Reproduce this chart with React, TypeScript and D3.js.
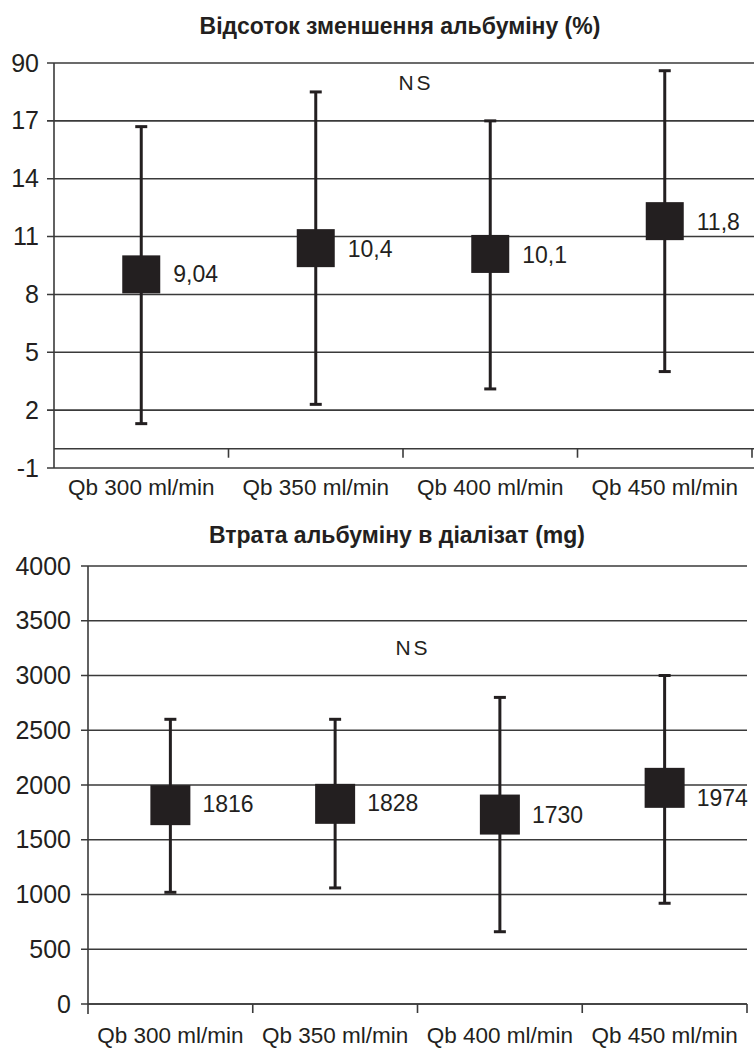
import React from 'react';
import * as d3 from 'd3';

const categories = ['Qb 300 ml/min', 'Qb 350 ml/min', 'Qb 400 ml/min', 'Qb 450 ml/min'];

// Відсоток зменшення альбуміну (%)
const reductionMean = [9.04, 10.4, 10.1, 11.8];
const reductionHigh = [16.7, 18.5, 17.0, 19.6];
const reductionLow = [1.3, 2.3, 3.1, 4.0];
const reductionTicks = [-1, 2, 5, 8, 11, 14, 17, 20];
const reductionTickLabels = ['-1', '2', '5', '8', '11', '14', '17', '90'];

// Втрата альбуміну в діалізат (mg)
const lossMean = [1816, 1828, 1730, 1974];
const lossHigh = [2600, 2600, 2800, 3000];
const lossLow = [1020, 1060, 660, 920];
const lossTicks = [0, 500, 1000, 1500, 2000, 2500, 3000, 3500, 4000];
const lossTickLabels = lossTicks.map(String);

const ink = '#231f20';
const gridColor = '#3a3a3a';
const font = '"Liberation Sans", Arial, sans-serif';

const commaFmt = (v: number) => String(v).replace('.', ',');

interface PanelProps {
  title: string;
  titleX: number;
  titleY: number;
  titleSize: number;
  means: number[];
  highs: number[];
  lows: number[];
  ticks: number[];
  tickLabels: string[];
  yDomain: [number, number];
  top: number;
  bottom: number;
  left: number;
  right: number;
  gridRight: number;
  baseValue: number;
  axisBottom: number;
  tickLabelX: number;
  tickFont: number;
  catLabelY: number;
  markSize: number;
  labelDy: number[];
  nsX: number;
  nsY: number;
  fmt: (v: number) => string;
}

const Panel: React.FC<PanelProps> = (p) => {
  const y = d3.scaleLinear().domain(p.yDomain).range([p.bottom, p.top]);
  const x = d3.scaleBand().domain(categories).range([p.left, p.right]);
  const bw = x.bandwidth();
  const baseY = y(p.baseValue);
  const boundaries = categories.map((c) => (x(c) as number) + bw);

  return (
    <g fontFamily={font} fill={ink}>
      <text x={p.titleX} y={p.titleY} textAnchor="middle" fontWeight="bold" fontSize={p.titleSize}>
        {p.title}
      </text>

      {/* gridlines + y ticks */}
      {p.ticks.map((t, i) => (
        <g key={t}>
          <line x1={p.left - 7} x2={p.gridRight} y1={y(t)} y2={y(t)} stroke={gridColor} strokeWidth={1.6} />
          <text x={p.tickLabelX} y={y(t) + 8.5} textAnchor="end" fontSize={p.tickFont}>
            {p.tickLabels[i]}
          </text>
        </g>
      ))}

      {/* value axis */}
      <line x1={p.left} x2={p.left} y1={y(p.yDomain[1])} y2={p.axisBottom} stroke={gridColor} strokeWidth={1.6} />

      {/* category axis */}
      <line x1={p.left} x2={p.gridRight} y1={baseY} y2={baseY} stroke={gridColor} strokeWidth={1.6} />
      {boundaries.map((b) => (
        <line key={b} x1={b} x2={b} y1={baseY} y2={baseY + 9} stroke={gridColor} strokeWidth={1.6} />
      ))}
      {categories.map((c) => (
        <text key={c} x={(x(c) as number) + bw / 2} y={p.catLabelY} textAnchor="middle" fontSize={22.5}>
          {c}
        </text>
      ))}

      <text x={p.nsX} y={p.nsY} textAnchor="middle" fontSize={21} letterSpacing={3}>
        NS
      </text>

      {/* error bars + means */}
      {categories.map((c, i) => {
        const cx = (x(c) as number) + bw / 2;
        const cy = y(p.means[i]);
        const hi = y(p.highs[i]);
        const lo = y(p.lows[i]);
        const s = p.markSize;
        return (
          <g key={c}>
            <line x1={cx} x2={cx} y1={hi} y2={lo} stroke={ink} strokeWidth={3} />
            <line x1={cx - 6} x2={cx + 6} y1={hi} y2={hi} stroke={ink} strokeWidth={3} />
            <line x1={cx - 6} x2={cx + 6} y1={lo} y2={lo} stroke={ink} strokeWidth={3} />
            <rect x={cx - s / 2} y={cy - s / 2} width={s} height={s} fill={ink} />
            <text x={cx + 32} y={cy + p.labelDy[i]} fontSize={23}>
              {p.fmt(p.means[i])}
            </text>
          </g>
        );
      })}
    </g>
  );
};

const App: React.FC = () => {
  return (
    <div style={{ position: 'absolute', left: 0, top: 0, background: '#fff' }}>
      <svg width={754} height={1048} viewBox="0 0 754 1048">
        <rect width={754} height={1048} fill="#fff" />
        <Panel
          title="Відсоток зменшення альбуміну (%)"
          titleX={400}
          titleY={34}
          titleSize={23}
          means={reductionMean}
          highs={reductionHigh}
          lows={reductionLow}
          ticks={reductionTicks}
          tickLabels={reductionTickLabels}
          yDomain={[-1, 20]}
          top={63}
          bottom={468}
          left={54}
          right={752}
          gridRight={754}
          baseValue={0}
          axisBottom={468}
          tickLabelX={39}
          tickFont={25}
          catLabelY={495}
          markSize={38}
          labelDy={[8, 9, 9, 9]}
          nsX={416}
          nsY={90}
          fmt={commaFmt}
        />
        <Panel
          title="Втрата альбуміну в діалізат (mg)"
          titleX={397}
          titleY={543}
          titleSize={23}
          means={lossMean}
          highs={lossHigh}
          lows={lossLow}
          ticks={lossTicks}
          tickLabels={lossTickLabels}
          yDomain={[0, 4000]}
          top={566}
          bottom={1004}
          left={88}
          right={747}
          gridRight={747}
          baseValue={0}
          axisBottom={1014}
          tickLabelX={71}
          tickFont={25}
          catLabelY={1043}
          markSize={40}
          labelDy={[7, 7, 8, 18]}
          nsX={413}
          nsY={655}
          fmt={(v) => String(v)}
        />
      </svg>
    </div>
  );
};

export default App;
